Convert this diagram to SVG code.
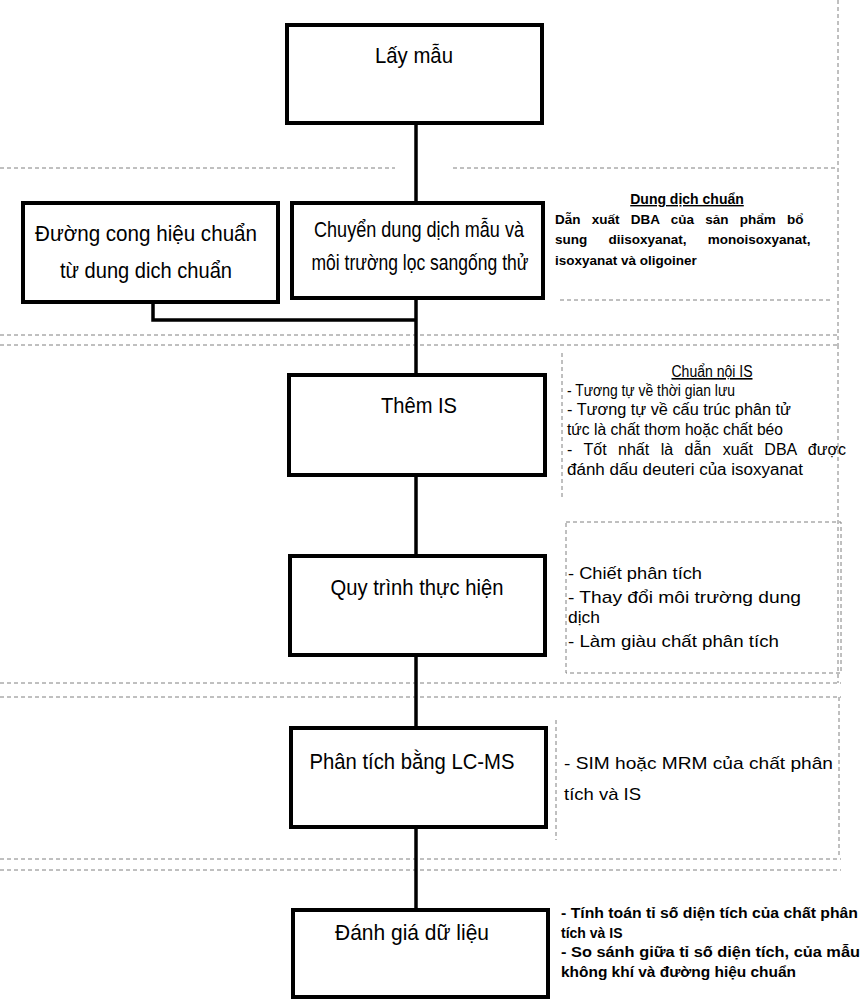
<svg xmlns="http://www.w3.org/2000/svg" width="862" height="1007" viewBox="0 0 862 1007">
<style>
.bg{fill:#fff}
.box{fill:#fff;stroke:#000;stroke-width:4}
.wire{fill:none;stroke:#000;stroke-width:3.5}
.dash{fill:none;stroke:#808080;stroke-width:1;stroke-dasharray:4 3}
.lbl{font-family:"Liberation Sans",Arial,sans-serif;font-size:22px;text-anchor:middle;fill:#000}
.nb{font-family:"Liberation Sans",Arial,sans-serif;font-size:14px;font-weight:bold;fill:#000}
.ns{font-family:"Liberation Sans",Arial,sans-serif;font-size:13.5px;font-weight:bold;fill:#000}
.nr{font-family:"Liberation Sans",Arial,sans-serif;font-size:16px;fill:#000}
.nm{font-family:"Liberation Sans",Arial,sans-serif;font-size:17px;fill:#000}
.u{text-decoration:underline}
</style>
<rect class="bg" x="0" y="0" width="862" height="1007"/>
<g id="background-dividers">
<path class="dash" d="M0 168H395M453 168H838"/>
<path class="dash" d="M838 0V345"/>
<path class="dash" d="M560 300H832"/>
<path class="dash" d="M0 335H838M0 345H838"/>
<path class="dash" d="M562 353V500M838 345V683"/>
<rect class="dash" x="566" y="522" width="275" height="151"/>
<path class="dash" d="M0 683H841M0 697H841"/>
<path class="dash" d="M556 720V840M839 697V858"/>
<path class="dash" d="M0 859H841M0 870H841"/>
</g>
<g id="connectors">
<path class="wire" d="M416 123V203"/>
<path class="wire" d="M416 298V375"/>
<path class="wire" d="M153 302V320H416"/>
<path class="wire" d="M416 475V556"/>
<path class="wire" d="M416 655V728"/>
<path class="wire" d="M416 827V910"/>
</g>
<g id="node-lay-mau">
<rect class="box" x="287" y="25" width="255" height="98"/>
<text class="lbl" x="414" y="63" textLength="78" lengthAdjust="spacingAndGlyphs">Lấy mẫu</text>
</g>
<g id="node-duong-cong">
<rect class="box" x="23" y="203" width="255" height="99"/>
<text class="lbl" x="146" y="241" textLength="222" lengthAdjust="spacingAndGlyphs">Đường cong hiệu chuẩn</text>
<text class="lbl" x="146" y="278" textLength="172" lengthAdjust="spacingAndGlyphs">từ dung dich chuẩn</text>
</g>
<g id="node-chuyen">
<rect class="box" x="292" y="203" width="251" height="95"/>
<text class="lbl" x="419" y="237" textLength="210" lengthAdjust="spacingAndGlyphs">Chuyển dung dịch mẫu và</text>
<text class="lbl" x="420" y="270" textLength="217" lengthAdjust="spacingAndGlyphs">môi trường lọc sangống thử</text>
</g>
<g id="note-dung-dich">
<text class="nb u" x="687" y="204" text-anchor="middle">Dung dịch chuẩn</text>
<text class="ns" x="555" y="224" word-spacing="7.5">Dẫn xuất DBA  của sản phẩm bổ</text>
<text class="ns" x="555" y="244" word-spacing="17.5">sung diisoxyanat, monoisoxyanat,</text>
<text class="ns" x="555" y="265">isoxyanat và oligoiner</text>
</g>
<g id="node-them-is">
<rect class="box" x="289" y="375" width="256" height="100"/>
<text class="lbl" x="419" y="413" textLength="76" lengthAdjust="spacingAndGlyphs">Thêm IS</text>
</g>
<g id="note-chuan-noi">
<text class="nr u" x="712" y="377" text-anchor="middle" textLength="81" lengthAdjust="spacingAndGlyphs">Chuẩn nội IS</text>
<text class="nr" x="567" y="396" textLength="168" lengthAdjust="spacingAndGlyphs">- Tương tự về thời gian lưu</text>
<text class="nr" x="567" y="415" textLength="224" lengthAdjust="spacingAndGlyphs">- Tương tự về cấu trúc phân tử</text>
<text class="nr" x="567" y="435" textLength="216" lengthAdjust="spacingAndGlyphs">tức là chất thơm hoặc chất béo</text>
<text class="nr" x="567" y="455" word-spacing="7">- Tốt nhất là dẫn xuất DBA được</text>
<text class="nr" x="567" y="475" textLength="236" lengthAdjust="spacingAndGlyphs">đánh dấu deuteri  của  isoxyanat</text>
</g>
<g id="node-quy-trinh">
<rect class="box" x="290" y="556" width="255" height="99"/>
<text class="lbl" x="417" y="595" textLength="173" lengthAdjust="spacingAndGlyphs">Quy trình thực hiện</text>
</g>
<g id="note-chiet">
<text class="nm" x="568" y="579" textLength="134" lengthAdjust="spacingAndGlyphs">- Chiết phân tích</text>
<text class="nm" x="568" y="603" textLength="233" lengthAdjust="spacingAndGlyphs">- Thay đổi môi trường dung</text>
<text class="nm" x="568" y="623" textLength="32" lengthAdjust="spacingAndGlyphs">dịch</text>
<text class="nm" x="568" y="647" textLength="211" lengthAdjust="spacingAndGlyphs">- Làm giàu chất phân tích</text>
</g>
<g id="node-lcms">
<rect class="box" x="291" y="728" width="255" height="99"/>
<text class="lbl" x="412" y="769" textLength="205" lengthAdjust="spacingAndGlyphs">Phân tích bằng LC-MS</text>
</g>
<g id="note-sim">
<text class="nm" x="564" y="769" textLength="269" lengthAdjust="spacingAndGlyphs">- SIM hoặc MRM của chất phân</text>
<text class="nm" x="564" y="800" textLength="77" lengthAdjust="spacingAndGlyphs">tích và IS</text>
</g>
<g id="node-danh-gia">
<rect class="box" x="293" y="910" width="255" height="87"/>
<text class="lbl" x="412" y="940" textLength="154" lengthAdjust="spacingAndGlyphs">Đánh giá dữ liệu</text>
</g>
<g id="note-tinh-toan">
<text class="nb" x="561" y="918" textLength="297" lengthAdjust="spacingAndGlyphs">- Tính toán tỉ số diện tích của chất phân</text>
<text class="nb" x="561" y="938">tích và IS</text>
<text class="nb" x="561" y="957" textLength="299" lengthAdjust="spacingAndGlyphs">- So sánh giữa tỉ số diện tích, của mẫu</text>
<text class="nb" x="561" y="977" textLength="235" lengthAdjust="spacingAndGlyphs">không khí và đường hiệu chuẩn</text>
</g>
</svg>
